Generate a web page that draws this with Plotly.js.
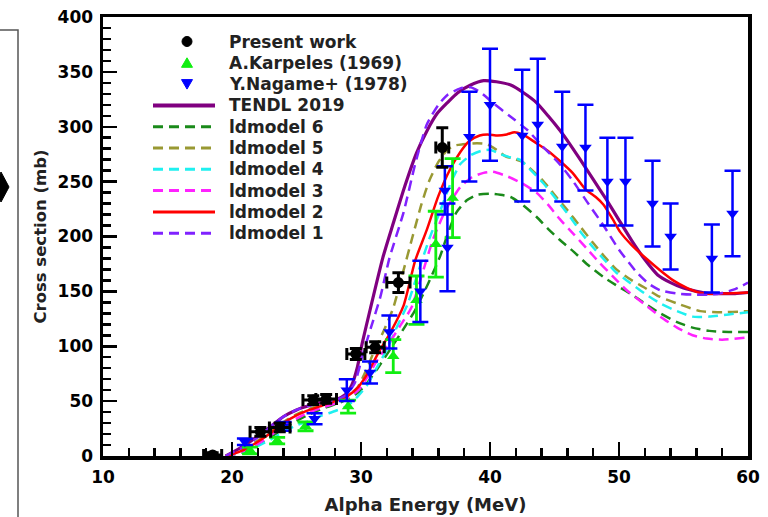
<!DOCTYPE html>
<html><head><meta charset="utf-8">
<script src="https://cdn.plot.ly/plotly-3.0.1.min.js"></script>
<style>html,body{margin:0;padding:0;background:#fff}#chart{width:768px;height:517px}</style>
</head><body><div id="chart"></div>
<script>
// ---- Experimental data ----
const presentE    = [18.5, 22.2, 23.7, 26.3, 27.3, 29.6, 31.1, 32.9, 36.3];
const presentSig  = [1, 22, 26, 51, 52, 93, 99, 158, 281];
const presentErrY = [2, 4, 4, 4, 4, 5, 5, 9, 18];
const presentErrX = [0.7, 0.8, 0.8, 0.8, 0.8, 0.7, 0.7, 0.9, 0.5];

const karpE    = [21.4, 23.5, 25.7, 29.0, 32.5, 34.3, 35.8, 37.1];
const karpSig  = [5, 14, 27, 45, 91, 142, 193, 235];
const karpErr  = [3, 3, 4, 6, 15, 22, 30, 36];

const nagE   = [21.0, 24.0, 26.4, 28.9, 30.7, 32.2, 34.6, 36.7, 36.5, 38.4, 40.0, 42.5, 43.7, 45.6, 47.4, 49.1, 50.5, 52.6, 54.0, 57.2, 58.8];
const nagSig = [13, 27, 34, 60, 76, 113, 150, 190, 242, 291, 320, 292, 302, 282, 281, 250, 250, 230, 200, 180, 221];
const nagErr = [3, 4, 5, 10, 10, 15, 28, 40, 22, 41, 51, 60, 60, 50, 39, 40, 40, 39, 30, 31, 39];

// ---- Model curves ----
const tendlE = [19.5,20,21,22,23,24,25,26,27,28,28.8,29.3,29.7,30.1,30.7,31.7,32.5,33.4,34.3,35.1,35.9,36.7,37.5,38.5,39.5,40.5,41.6,42.6,43.6,44.5,45.4,46.2,47,48,49,50,51,52,53,54,55,56,57,58,59,60];
const tendlS = [0,3,10,18,27,36,42,46,49,51,56,65,80,103,133,181,212,246,276,296,312,322,331,338,342,341,338,331,322,310,297,284,270,252,234,215,196,179,165,158,153,150,148,148,148,149];

const ld1E = [19.5,20,21,22,23,24,25,26,27,28,28.8,29.5,30.2,30.8,31.5,32.2,33.3,34.2,35.1,36,36.7,37.7,38.5,39.3,40.2,41.5,42.9,44,45.4,46.4,47.5,48.8,50,51.4,52.3,53.2,54.5,55.7,57,57.8,59,60];
const ld1S = [0,3,9,17,27,36,42,46,48,51,55,66,95,118,145,180,222,266,302,320,329,335,336,331,322,310,297,283,266,251,232,210,188,167,157,151,148,147,147,148,152,158];

const ld5E = [19.5,20,21,22,23,24,25,26,27,28,29,29.7,30.4,31,31.8,32.5,33.2,34,34.7,35.3,36,36.7,37.3,37.9,39,39.8,40.5,41.2,41.8,42.5,43.3,44.1,45,46,47,48,49,49.8,51,51.9,53,54.5,56.3,58,60];
const ld5S = [0,2,7,14,22,31,38,43,47,50,55,62,78,95,115,135,165,200,230,251,268,279,283,284,285,284,279,273,271,268,260,251,238,224,209,194,180,170,160,154,146,139,132,131,132];

const ld2E = [19.5,20,21,22,23,24,25,26,27,28,29,29.8,30.5,31.3,32.3,33.3,34.2,35.1,36,36.9,37.7,38.4,39.2,39.8,40.6,41.3,41.9,42.5,43.1,43.6,44.5,45.4,46.4,47.4,48.2,48.8,49.5,50.1,51,52.2,53.2,54.2,55.3,56.5,58,60];
const ld2S = [0,1.5,6,13,21,30,37,42,46,50,55,63,75,93,113,137,178,206,237,261,277,287,292,293,292,293,295,293,289,285,278,269,258,243,236,229,216,204,192,179,169,160,153,148,148,149];

const ld4E = [19.5,20,21,22,23,24,25,26,27,28,29,29.8,30.5,31.2,32,32.8,33.6,34.5,35.3,36.1,37,37.7,38.5,39.3,40,40.8,41.6,42.3,43.2,44.1,45.2,46.2,47.1,48,49,49.8,50.6,52,53.2,54.5,55.7,57,58.5,60];
const ld4S = [0,1,4,9,15,22,28,32,37,41,46,55,65,80,97,118,138,170,198,222,250,266,274,278,279,275,272,270,260,249,233,218,203,190,177,167,160,148,139,132,127,127,129,131];

const ld3E = [19.5,20,21,22,23,24,25,26,27,28,29,29.8,30.5,31.3,32.2,33,33.9,34.8,35.6,36.6,37.7,38.6,39.5,40.2,41.3,42.4,43.6,44.5,45.4,46.5,47.5,48.5,49.5,50.6,51.9,53.2,54.5,55.7,56.8,58,60];
const ld3S = [0,1,5,11,19,27,34,40,44,48,53,60,72,88,103,118,135,168,198,225,245,254,258,259,255,249,240,229,216,202,189,176,164,151,139,127,117,110,107,106,108];

const ld6E = [19.5,20,21,22,23,24,25,26,27,28,29,29.8,30.5,31.3,32.2,33.2,34.2,35.2,36.1,36.8,37.4,38.2,39,40,40.8,41.6,42.5,43.6,44.5,45.4,46.5,47.5,48.8,50,51,52,53.2,54.5,55.7,57,58.5,60];
const ld6S = [0,1,4,10,17,25,32,38,43,47,52,58,67,80,96,114,133,157,181,205,222,233,238,239,238,236,229,218,207,197,186,175,163,154,147,139,130,122,117,114,113,113];

const legendNames = ["Present work","A.Karpeles (1969)","Y.Nagame+ (1978)","TENDL 2019","ldmodel 6","ldmodel 5","ldmodel 4","ldmodel 3","ldmodel 2","ldmodel 1"];

const DASH = "10px,6px";
const C = {tendl: "#800080", ld6: "#1a8a1a", ld5: "#999933", ld4: "#1ff0f0", ld3: "#ff22ff", ld2: "#ff0000", ld1: "#8022ff",
           karp: "#11ee11", nag: "#0000ff", pres: "#000000"};

function curve(x, y, name, color, dash, width) {
  return {x: x, y: y, name: name, type: "scatter", mode: "lines",
    line: {color: color, dash: dash, width: width, shape: "spline", smoothing: 0.6}, hoverinfo: "skip"};
}

const traces = [
  curve(tendlE, tendlS, legendNames[3], C.tendl, "solid", 3.2),
  curve(ld6E, ld6S, legendNames[4], C.ld6, DASH, 2.5),
  curve(ld5E, ld5S, legendNames[5], C.ld5, DASH, 2.5),
  curve(ld4E, ld4S, legendNames[6], C.ld4, DASH, 2.5),
  curve(ld3E, ld3S, legendNames[7], C.ld3, DASH, 2.5),
  curve(ld2E, ld2S, legendNames[8], C.ld2, "solid", 2.5),
  curve(ld1E, ld1S, legendNames[9], C.ld1, DASH, 2.5),
  {x: karpE, y: karpSig, name: legendNames[1], type: "scatter", mode: "markers",
    marker: {symbol: "triangle-up", size: 11, color: C.karp},
    error_y: {type: "data", array: karpErr, color: C.karp, thickness: 2.8, width: 8}},
  {x: nagE, y: nagSig, name: legendNames[2], type: "scatter", mode: "markers",
    marker: {symbol: "triangle-down", size: 11, color: C.nag},
    error_y: {type: "data", array: nagErr, color: C.nag, thickness: 2.5, width: 8}},
  {x: presentE, y: presentSig, name: legendNames[0], type: "scatter", mode: "markers",
    marker: {symbol: "circle", size: 11, color: C.pres},
    error_y: {type: "data", array: presentErrY, color: C.pres, thickness: 3, width: 6},
    error_x: {type: "data", array: presentErrX, color: C.pres, thickness: 3, width: 6}}
];

const FAM = "DejaVu Sans, Open Sans, sans-serif";
const tickFont = {family: FAM, size: 17, color: "#000", weight: "bold"};
const W = 645, H = 439; // plot size in px, for paper-coordinate placement of decorations
function px(xp) { return (xp - 103) / W; }
function py(yp) { return (456 - yp) / H; }

// ---- Hand-built legend (layout decorations) ----
const legendStyle = [
  {kind: "circle", color: C.pres}, {kind: "up", color: C.karp}, {kind: "down", color: C.nag},
  {kind: "line", color: C.tendl, dash: "solid", w: 4}, {kind: "line", color: C.ld6, dash: DASH, w: 3},
  {kind: "line", color: C.ld5, dash: DASH, w: 3}, {kind: "line", color: C.ld4, dash: DASH, w: 3},
  {kind: "line", color: C.ld3, dash: DASH, w: 3}, {kind: "line", color: C.ld2, dash: "solid", w: 3},
  {kind: "line", color: C.ld1, dash: DASH, w: 3}
];
const shapes = [
  {type: "rect", xref: "paper", yref: "paper", x0: px(-10), x1: px(18), y0: py(540), y1: py(30),
    line: {color: "#555", width: 1.5}, fillcolor: "rgba(0,0,0,0)", layer: "above"},
  {type: "path", xref: "paper", yref: "paper",
    path: "M" + px(9) + "," + py(187) + " L" + px(1) + "," + py(172) + " L" + px(-6) + "," + py(187) + " L" + px(1) + "," + py(202) + " Z",
    fillcolor: "#000", line: {color: "#000", width: 1}}
];
const annotations = [];
legendNames.forEach(function (name, i) {
  const yc = 41.5 + 21.3 * i;
  const st = legendStyle[i];
  if (st.kind === "circle") {
    shapes.push({type: "circle", xref: "paper", yref: "paper", x0: px(182), x1: px(192), y0: py(yc + 5), y1: py(yc - 5),
      fillcolor: st.color, line: {color: st.color, width: 1}});
  } else if (st.kind === "up") {
    shapes.push({type: "path", xref: "paper", yref: "paper",
      path: "M" + px(187) + "," + py(yc - 5) + " L" + px(192.5) + "," + py(yc + 4.5) + " L" + px(181.5) + "," + py(yc + 4.5) + " Z",
      fillcolor: st.color, line: {color: st.color, width: 1}});
  } else if (st.kind === "down") {
    shapes.push({type: "path", xref: "paper", yref: "paper",
      path: "M" + px(187) + "," + py(yc + 5) + " L" + px(192.5) + "," + py(yc - 4.5) + " L" + px(181.5) + "," + py(yc - 4.5) + " Z",
      fillcolor: st.color, line: {color: st.color, width: 1}});
  } else {
    shapes.push({type: "line", xref: "paper", yref: "paper", x0: px(153), x1: px(215), y0: py(yc), y1: py(yc),
      line: {color: st.color, width: st.w, dash: st.dash}});
  }
  annotations.push({text: name, xref: "paper", yref: "paper", x: px(227), y: py(yc), xanchor: "left", yanchor: "middle",
    showarrow: false, font: {family: FAM, size: 17, color: "#222", weight: "bold"}});
});

const layout = {
  width: 768, height: 517,
  margin: {l: 103, r: 20, t: 17, b: 61},
  paper_bgcolor: "#fff", plot_bgcolor: "#fff",
  font: {family: FAM, color: "#000"},
  showlegend: false,
  xaxis: {range: [10, 60], dtick: 10, tick0: 10, ticks: "inside", ticklen: 14, tickwidth: 2.5, tickcolor: "#000",
    showline: true, linewidth: 3.5, linecolor: "#000", mirror: true, showgrid: false, zeroline: false,
    tickfont: tickFont, ticklabelstandoff: 3,
    minor: {dtick: 2, ticks: "inside", ticklen: 8, tickwidth: 2.5, tickcolor: "#000", showgrid: false},
    title: {text: "Alpha Energy (MeV)", standoff: 13,
      font: {family: FAM, size: 18, color: "#222", weight: "bold"}}},
  yaxis: {range: [0, 400], dtick: 50, tick0: 0, ticks: "inside", ticklen: 14, tickwidth: 2.5, tickcolor: "#000",
    showline: true, linewidth: 3.5, linecolor: "#000", mirror: true, showgrid: false, zeroline: false,
    tickfont: tickFont, ticklabelstandoff: 3,
    minor: {dtick: 10, ticks: "inside", ticklen: 8, tickwidth: 2.5, tickcolor: "#000", showgrid: false},
    title: {text: "Cross section (mb)", standoff: 8,
      font: {family: FAM, size: 16.5, color: "#222", weight: "bold"}}},
  shapes: shapes,
  annotations: annotations
};

Plotly.newPlot("chart", traces, layout, {displayModeBar: false, staticPlot: true});
</script>
</body></html>
